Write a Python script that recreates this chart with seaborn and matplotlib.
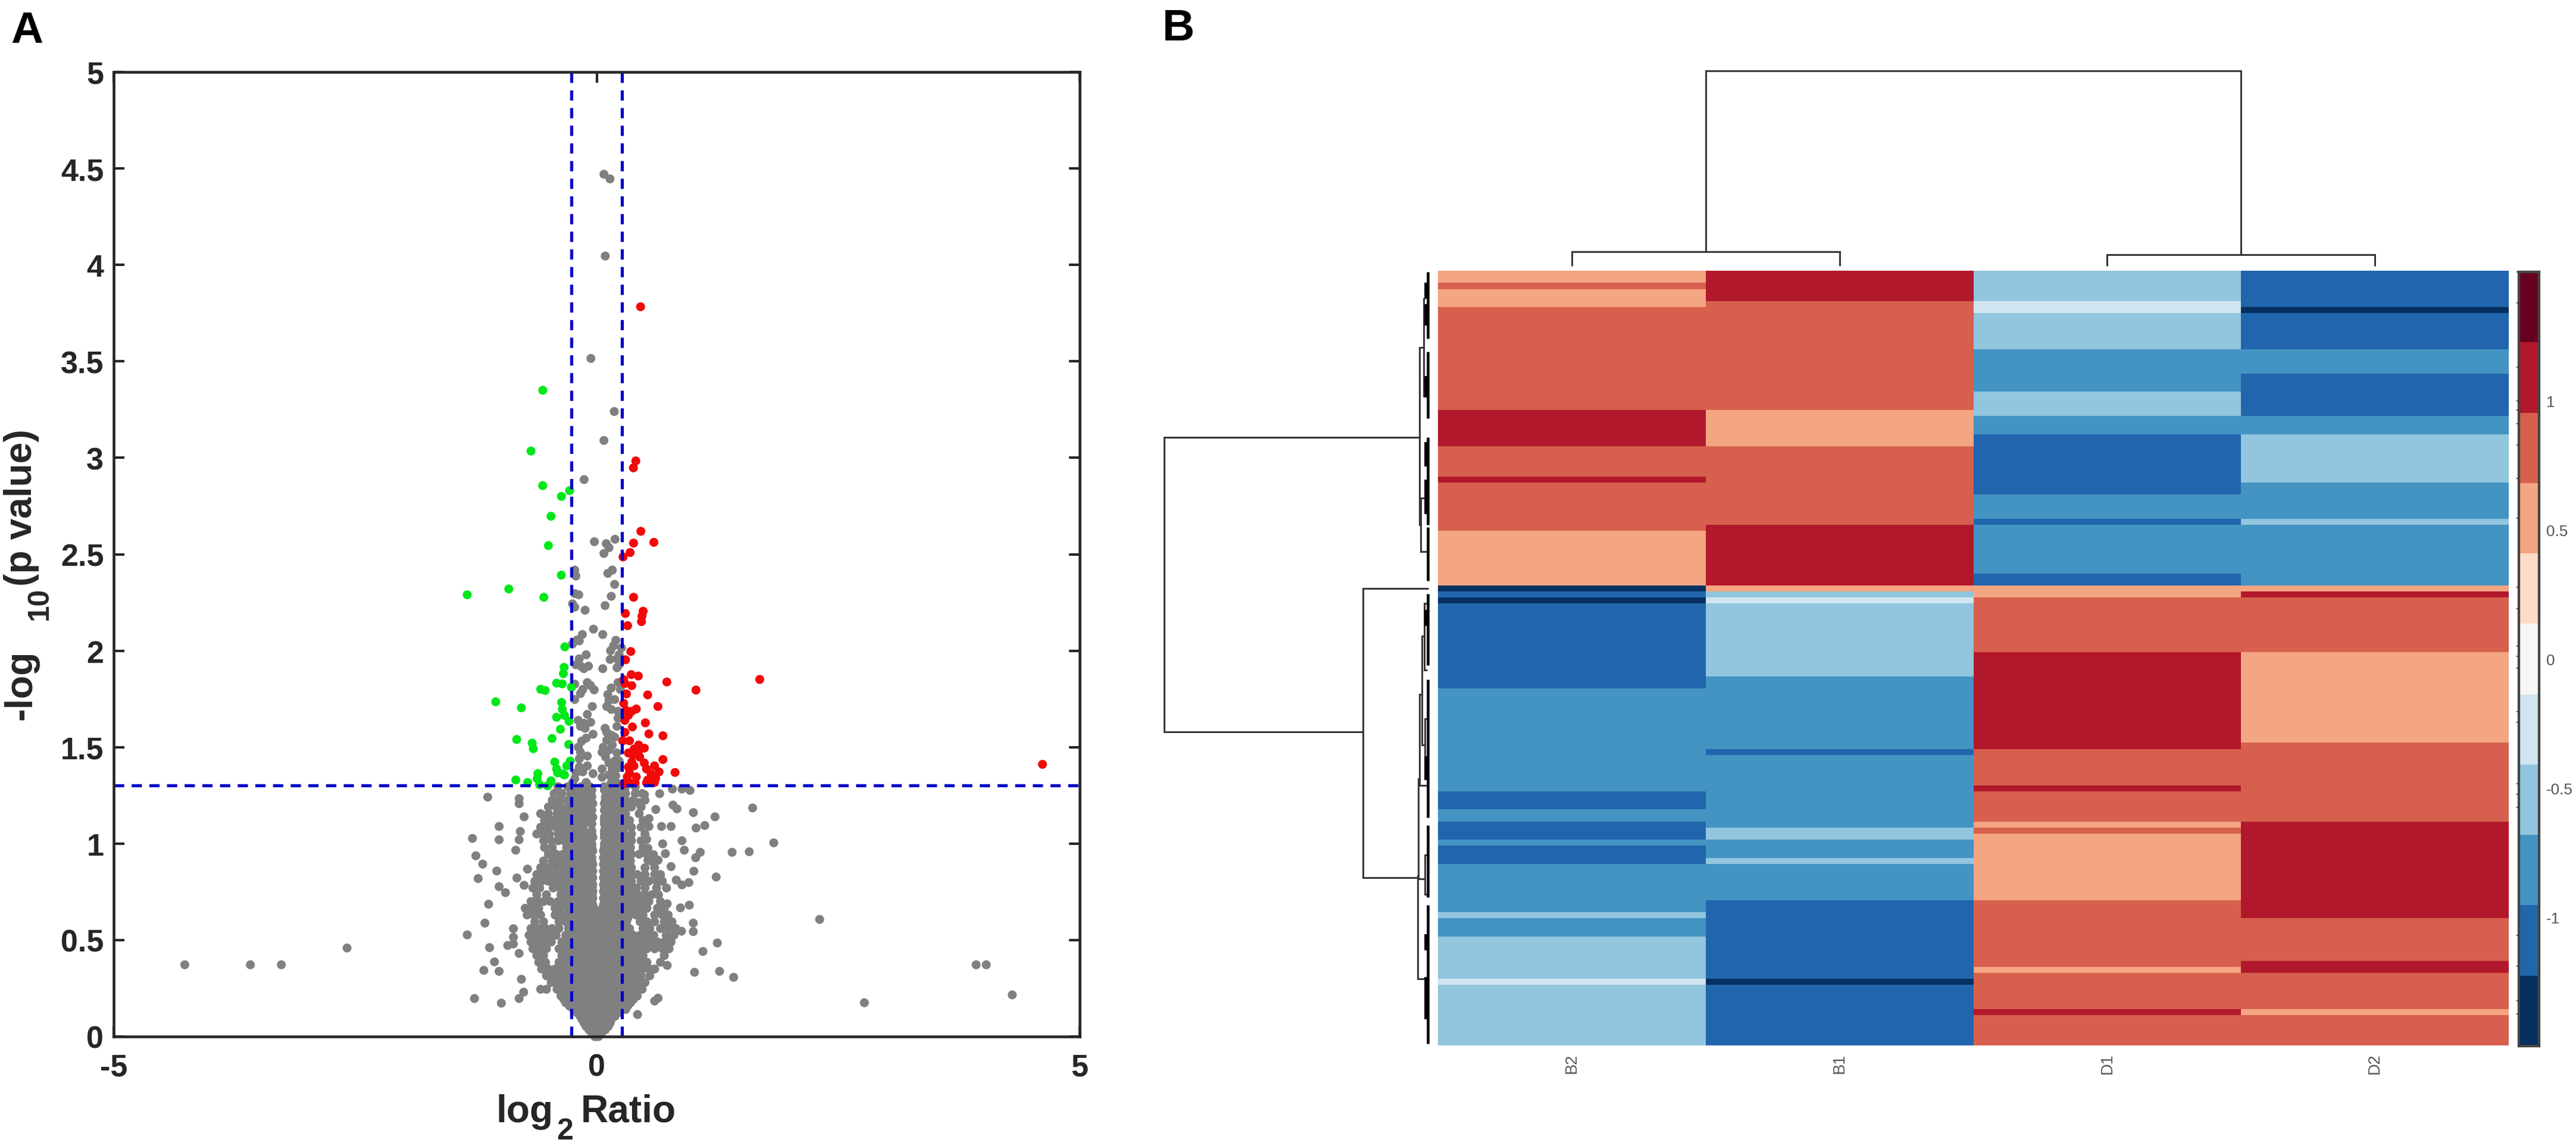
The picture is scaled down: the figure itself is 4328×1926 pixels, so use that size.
import numpy as np
import pandas as pd
import matplotlib
matplotlib.use("Agg")
import matplotlib.pyplot as plt
from matplotlib.colors import ListedColormap
import seaborn as sns

W, H = 4328, 1927
DPI = 300

sns.set_style("white")
plt.rcParams['font.family'] = ['Liberation Sans', 'DejaVu Sans']

# ---------- Panel A: volcano data ----------
green_x = [-.558,-.68,-.28,-.365,-.473,-.50,-.366,-1.34,-.91,-.547,-.33,-.337,-.345,-.415,-.356,-.262,-.58,-.533,
           -1.045,-.78,-.363,-.356,-.415,-.333,-.286,-.375,-.462,-.828,-.668,-.656,-.29,-.434,-.274,-.415,-.309,
           -.333,-.609,-.616,-.837,-.715,-.474,-.404,-.591,-.473,-.355,-.508,-.559]
green_y = [3.35,3.035,2.83,2.80,2.697,2.545,2.392,2.29,2.32,2.277,2.02,1.914,1.881,1.832,1.828,1.811,1.80,1.794,
           1.735,1.704,1.732,1.696,1.655,1.665,1.634,1.593,1.545,1.54,1.521,1.492,1.514,1.423,1.428,1.387,1.403,
           1.356,1.363,1.336,1.33,1.317,1.32,1.367,1.305,1.326,1.362,1.30,2.856]

red_x = [4.615,1.688,.454,.405,.38,.457,.382,.592,.346,.273,.382,.297,.481,.469,.464,.32,.353,.299,.358,.431,.28,.726,
         1.028,.292,.363,.309,.528,.28,.634,.41,.363,.304,.328,.292,.504,.37,.292,.54,.686,.269,.34,.434,.493,.386,
         .434,.328,.375,.445,.686,.363,.493,.328,.386,.599,.516,.811,.646,.34,.563,.41,.316,.61,.528,.328,.516,.398,
         .598,.28]
red_y = [1.411,1.851,3.783,2.984,2.948,2.619,2.558,2.562,2.509,2.486,2.277,2.193,2.205,2.179,2.151,2.13,1.996,1.953,
         1.876,1.869,1.85,1.838,1.796,1.83,1.819,1.776,1.771,1.727,1.711,1.698,1.686,1.691,1.665,1.639,1.626,1.605,
         1.577,1.569,1.559,1.533,1.533,1.511,1.495,1.49,1.48,1.47,1.459,1.449,1.436,1.423,1.418,1.397,1.403,1.403,
         1.387,1.369,1.372,1.366,1.361,1.346,1.346,1.338,1.33,1.32,1.315,1.315,1.317,1.31]

grey_x = [.075,.138,.089,-.06,.182,.075,-.13,-.024,.099,.19,.127,.075,-.227,-.215,.162,.115,.186,-.227,-.186,.151,
          -.25,-.227,.087,-.12,-.033,.063,-.149,-.203,-.25,-.18,.198,.174,.144,.257,.233,-.109,-.18,.139,.21,-.215,
          -.156,-.085,-.132,.063,.233,.21,-.227,-.097,-.062,-.026,-.144,-.168,.221,.151,.115,-.227,.186,.127,.245,
          -.045,.104,.151,.221,-.097,.221,-.191,-.132,-.062,-.168,-.12,.087,.21,.104,-.038,.151,-.109,-.156,.186,
          .104,.068,.162,-.191,-.168,.056,.127,.21,-.097,-.18,.092,.186,.127,.233,-.097,-.18,-.215,-.144,.056,.162,
          .221,-.038,.127,.198,.056,-.227,-.25,-.109,.186,.151,.221,
          -1.128,-.803,-.803,-.751,-1.010,-.791,-1.010,-1.286,-.803,-.838,-1.251,-1.18,-1.034,-1.227,-.826,-1.01,-.944,
          -.751,-.716,-1.119,-1.157,-1.34,-.862,-.862,-.921,-.862,-1.109,-.803,-1.058,-1.168,-1.01,-.779,-.756,-.803,
          -1.265,-.987,
          1.614,1.225,1.001,1.119,1.029,.671,.77,.789,.831,.652,.784,.883,.966,.883,.907,.683,.711,.588,1.072,1.025,
          1.402,1.579,1.833,.77,1.006,1.237,.954,.883,.824,.723,.659,.73,.959,.867,1.0,1.0,.878,1.249,1.1,1.013,1.272,
          1.418,.73,.635,.6,.423,.494,.435,.612,.541,.541,.518,.53,.53,.636,
          -4.264,-3.585,-3.264,-2.584,2.308,3.928,4.033,4.302,2.771]
grey_y = [4.47,4.446,4.046,3.515,3.24,3.09,2.887,2.565,2.555,2.578,2.534,2.504,2.418,2.387,2.418,2.401,2.344,2.296,2.29,
          2.282,2.243,2.226,2.234,2.21,2.112,2.084,2.084,2.056,2.035,2.051,2.054,2.025,2.0,2.015,1.979,1.979,1.958,
          1.955,1.958,1.927,1.917,1.92,1.907,1.907,1.927,1.912,1.827,1.835,1.819,1.797,1.799,1.778,1.835,1.807,1.773,
          1.747,1.747,1.742,1.799,1.711,1.711,1.696,1.686,1.67,1.65,1.639,1.624,1.629,1.608,1.598,1.598,1.608,1.577,
          1.567,1.562,1.547,1.531,1.552,1.536,1.5,1.511,1.5,1.474,1.474,1.485,1.47,1.454,1.439,1.449,1.428,1.418,1.428,
          1.403,1.397,1.367,1.372,1.387,1.387,1.392,1.363,1.356,1.351,1.344,1.336,1.315,1.317,1.32,1.317,1.31,
          1.241,1.233,1.207,1.139,1.089,1.063,1.02,1.027,1.02,.966,.937,.894,.858,.819,.822,.777,.746,.784,.868,.686,
          .588,.527,.559,.515,.472,.48,.461,.431,.387,.343,.338,.297,.23,.197,.197,.173,
          1.185,1.139,1.161,1.094,1.081,1.089,1.089,1.2,1.18,1.259,1.283,1.283,1.276,1.015,.966,.999,.948,.943,.955,.927,
          .955,.958,1.004,.881,.857,.827,.798,.786,.811,.77,.832,.688,.681,.667,.588,.544,.546,.485,.441,.333,.338,.307,
          .369,.199,.184,.114,1.254,1.213,1.177,1.13,1.089,1.022,.976,.914,.914,
          .372,.372,.372,.459,.607,.372,.372,.216,.175]

# dense part of the grey cloud, read row by row
core_y = [0.0,.035,.07,.105,.14,.175,.21,.245,.28,.315,.35,.385,.42,.455,.49,.525,.56,.595,.63,.665,.70,.735,.77,.805,
          .84,.875,.91,.945,.98,1.015,1.05,1.085,1.12,1.155,1.19,1.225,1.26,1.295]
core_x = [
 [-.02,.0,.02],
 [-.08,-.02,.04,.09],
 [-.13,-.07,-.01,.05,.11,.14],
 [-.17,-.11,-.05,.01,.07,.13,.19],
 [-.24,-.18,-.12,-.06,0,.06,.12,.18,.24,.30],
 [-.32,-.26,-.19,-.13,-.07,-.01,.05,.11,.17,.23,.29,.35],
 [-.37,-.3,-.24,-.17,-.1,-.04,.03,.09,.16,.22,.29,.35,.42],
 [-.58,-.52,-.41,-.35,-.28,-.21,-.14,-.07,0,.07,.14,.21,.28,.35,.41,.47],
 [-.47,-.4,-.33,-.26,-.19,-.12,-.05,.02,.09,.16,.23,.3,.37,.44,.5],
 [-.52,-.45,-.38,-.31,-.24,-.17,-.1,-.03,.04,.11,.18,.25,.32,.39,.46,.55],
 [-.57,-.5,-.43,-.36,-.29,-.22,-.15,-.08,-.01,.06,.13,.2,.27,.34,.41,.48,.55,.6],
 [-.6,-.53,-.39,-.32,-.25,-.18,-.11,-.04,.03,.1,.17,.24,.31,.38,.45,.52,.66],
 [-.62,-.55,-.36,-.29,-.22,-.15,-.08,-.01,.06,.13,.2,.27,.34,.41,.48,.7],
 [-.66,-.59,-.52,-.39,-.32,-.25,-.18,-.11,-.04,.03,.1,.17,.24,.31,.38,.45,.52,.6,.68,.75],
 [-.68,-.61,-.54,-.47,-.36,-.29,-.22,-.15,-.08,-.01,.06,.13,.2,.27,.34,.41,.48,.55,.63,.7,.77],
 [-.7,-.63,-.56,-.49,-.42,-.32,-.25,-.18,-.11,-.04,.03,.1,.17,.24,.31,.38,.45,.52,.59,.72,.8],
 [-.68,-.6,-.53,-.46,-.39,-.29,-.22,-.15,-.08,-.01,.06,.13,.2,.27,.34,.48,.55,.66,.74,.82],
 [-.64,-.55,-.39,-.32,-.25,-.18,-.11,-.04,.03,.1,.17,.24,.31,.45,.52,.6,.7,.78],
 [-.72,-.65,-.58,-.43,-.36,-.29,-.22,-.15,-.08,-.01,.06,.13,.2,.27,.34,.41,.48,.6,.68,.74],
 [-.74,-.67,-.6,-.43,-.38,-.3,-.23,-.16,-.09,-.03,.06,.12,.18,.25,.32,.39,.46,.52,.63,.7],
 [-.68,-.61,-.55,-.48,-.4,-.33,-.26,-.19,-.12,-.05,.08,.14,.2,.27,.34,.41,.48,.54,.66],
 [-.62,-.52,-.37,-.3,-.23,-.16,-.09,-.045,.09,.15,.22,.29,.36,.43,.5,.57,.64],
 [-.66,-.59,-.45,-.38,-.31,-.24,-.17,-.1,-.045,.08,.14,.2,.27,.34,.41,.5,.62],
 [-.64,-.57,-.5,-.43,-.36,-.29,-.22,-.15,-.08,.08,.15,.22,.29,.36,.46,.54,.62,.68],
 [-.62,-.55,-.48,-.41,-.34,-.27,-.2,-.13,-.06,.08,.14,.21,.28,.35,.42,.5,.6,.66],
 [-.58,-.5,-.42,-.35,-.28,-.21,-.14,-.07,.09,.15,.22,.29,.36,.5,.6],
 [-.55,-.46,-.38,-.31,-.24,-.17,-.1,-.05,.08,.14,.21,.28,.35,.56],
 [-.5,-.42,-.35,-.28,-.21,-.14,-.07,.09,.15,.22,.29,.36,.44,.52],
 [-.54,-.46,-.31,-.24,-.17,-.1,-.05,.08,.14,.21,.28,.35,.48],
 [-.55,-.47,-.4,-.34,-.27,-.2,-.13,-.06,.09,.15,.22,.29,.36,.46],
 [-.62,-.56,-.49,-.4,-.32,-.25,-.18,-.11,-.05,.08,.14,.21,.28,.36,.5],
 [-.58,-.5,-.42,-.35,-.28,-.21,-.14,.09,.15,.22,.29,.36,.46],
 [-.54,-.46,-.38,-.3,-.23,-.16,-.09,.08,.14,.21,.28,.34,.48],
 [-.58,-.5,-.41,-.33,-.26,-.18,-.12,.1,.16,.23,.3,.44],
 [-.5,-.42,-.36,-.28,-.21,-.14,.09,.15,.22,.29,.36,.46],
 [-.46,-.38,-.3,-.24,-.16,-.1,.09,.16,.23,.3,.38,.5],
 [-.44,-.36,-.27,-.2,-.13,-.06,.1,.16,.23,.3,.4,.47],
 [-.4,-.3,-.24,-.16,-.07,.08,.15,.22,.3,.4],
]

# second pass through the centre of the cloud, between the rows above
fill_y = [.0175,.0525,.0875,.1225,.1575,.1925,.2275,.2625,.2975,.3325,.3675,.4025,.4375,.4725,.5075,.5425,.5775,.6125,
          .6475,.6825,.7175,.7525,.7875,.8225,.8575,.8925,.9275,.9625,.9975,1.0325,1.0675,1.1025,1.1375,1.1725,1.2075,
          1.2425,1.2775]
fill_x = [
 [-.05,.0,.05],
 [-.11,-.05,.01,.07,.12],
 [-.15,-.09,-.03,.03,.09,.15],
 [-.2,-.14,-.08,-.02,.04,.1,.16,.22],
 [-.28,-.21,-.15,-.09,-.03,.03,.09,.15,.21,.27,.32],
 [-.34,-.28,-.22,-.16,-.1,-.04,.02,.08,.14,.2,.26,.32,.38],
 [-.33,-.27,-.2,-.14,-.07,-.01,.06,.12,.19,.25,.32,.38],
 [-.38,-.31,-.24,-.17,-.1,-.03,.04,.11,.18,.25,.32,.38],
 [-.37,-.3,-.23,-.16,-.09,-.02,.05,.12,.19,.26,.33],
 [-.34,-.27,-.2,-.13,-.06,.01,.08,.15,.22,.29,.36],
 [-.28,-.21,-.14,-.07,0,.07,.14,.21,.28,.35],
 [-.33,-.26,-.19,-.12,-.05,.02,.09,.16,.23,.3,.37],
 [-.33,-.26,-.19,-.12,-.05,.02,.09,.16,.23,.3],
 [-.28,-.21,-.14,-.07,0,.07,.14,.21,.28,.35],
 [-.28,-.21,-.14,-.07,0,.07,.14,.21,.28],
 [-.29,-.22,-.15,-.08,-.01,.06,.13,.2,.27,.34],
 [-.29,-.22,-.15,-.08,-.01,.06,.13,.2,.27],
 [-.31,-.24,-.17,-.1,-.03,.04,.11,.18,.25,.32],
 [-.26,-.19,-.12,-.05,.02,.09,.16,.23,.3],
 [-.27,-.2,-.13,-.04,.07,.13,.2,.27],
 [-.27,-.2,-.13,-.04,.07,.14,.21,.28],
 [-.27,-.2,-.13,-.04,.07,.13,.2,.27],
 [-.26,-.19,-.12,-.04,.07,.14,.21,.28],
 [-.24,-.17,-.1,-.04,.07,.14,.21,.28],
 [-.23,-.16,-.09,-.04,.07,.14,.21,.28],
 [-.24,-.17,-.1,-.04,.07,.14,.21],
 [-.27,-.2,-.13,-.05,.07,.14,.21,.28],
 [-.23,-.16,-.09,-.04,.07,.14,.21,.28],
 [-.27,-.2,-.13,-.05,.08,.15,.22],
 [-.23,-.16,-.09,-.04,.08,.15,.22,.29],
 [-.28,-.21,-.14,-.05,.08,.15,.22],
 [-.27,-.2,-.13,-.05,.08,.15,.22,.28],
 [-.25,-.18,-.11,-.04,.08,.15,.22],
 [-.28,-.2,-.13,-.05,.08,.15,.22,.28],
 [-.25,-.18,-.11,-.04,.08,.15,.22],
 [-.2,-.13,-.05,.09,.16,.23],
 [-.2,-.12,-.05,.08,.16,.23],
]

up_x = [-5, 5]
vline_x = [-.263, .263]
hline_y = [1.301]
a_xticks = [-5, 0, 5]
a_yticks = [0, .5, 1, 1.5, 2, 2.5, 3, 3.5, 4, 4.5, 5]
a_ylabels = ['0', '0.5', '1', '1.5', '2', '2.5', '3', '3.5', '4', '4.5', '5']

# ---------- Panel B: heat map data (colour level, rows in that run) ----------
columns = ['B2', 'B1', 'D1', 'D2']
palette = ['#053061','#2166ac','#4393c3','#92c5de','#d1e5f0','#f7f7f7','#fddbc7','#f4a582','#d6604d','#b2182b','#67001f']
levels_b2 = [7,8,7,8,9,8,9,8,7, 0,1,0,1,2,1,2,1,2,1,2,3,2,3,4,3]
runs_b2   = [2,1,3,17,6,5,1,8,9, 1,1,1,14,17,3,2,3,1,3,8,1,3,7,1,10]
levels_b1 = [9,8,7,8,9, 7,3,4,3,2,1,2,3,2,3,2,1,0,1]
runs_b1   = [5,18,6,13,10, 1,1,1,12,12,1,12,2,3,1,6,13,1,10]
levels_d1 = [3,4,3,2,3,2,1,2,1,2,1, 7,8,9,8,9,8,7,8,7,8,7,8,9,8]
runs_d1   = [5,2,6,7,4,3,10,4,1,8,2, 2,9,16,6,1,5,1,1,11,11,1,6,1,5]
levels_d2 = [1,0,1,2,1,2,3,2,3,2, 7,9,8,7,8,9,8,9,8,7,8]
runs_d2   = [6,1,6,4,7,3,8,6,1,10, 1,1,9,15,13,16,7,2,6,1,5]
cbar_ticks = [-1, -.5, 0, .5, 1]
cbar_labels = ['-1', '-0.5', '0', '0.5', '1']
cbar_rug = [1.5,1.38,1.13,1.0,.965,.913,.83,.7,.545,.277,.195,.05,.01,-.035,-.205,-.245,-.483,-.524,-.575,-1.07,-1.19,-1.325,-1.376]

# dendrograms: each merge is (height, position a, height a, position b, height b)
top_merges = [(1.0, 1.0, .0714, 3.0, .056), (.0714, .5, 0, 1.5, 0), (.056, 2.5, 0, 3.5, 0)]
left_merges = [
 (1.0, 27.5, .0315, 76.2, .247),
 (.247, 52.5, 0, 100.3, .039),
 (.0315, 12.7, .0164, 42, .028),
 (.0164, 4.6, .0126, 20.7, .012),
 (.028, 37.6, .012, 46.4, 0),
 (.039, 100, .036, 117, .006),
 (.036, 84, .032, 100.5, .012),
 (.032, 70, .022, 85, .004),
 (.022, 60.4, .0126, 78.4, .012),
 (.0126, 55, .005, 66, .005),
 (.012, 74, .004, 84, .004),
 (.012, 96.5, 0, 103, 0),
]
leaf_top = [.2,13.4,27.5,42.4,53.4,67.5,91.6,104.8]
leaf_bot = [11.2,24.4,42,51.2,65.2,90.3,103.5,127.7]
blob_top = [2,5.5,17.4,28.3,34.5,56,80.2,109.6,116.7]
blob_bot = [4.6,9,20.9,32.3,40.2,58.7,84.2,112.3,123.7]

# ---------- build frames ----------
core_xs = [x for row in core_x + fill_x for x in row]
core_ys = [y for row, y in zip(core_x + fill_x, core_y + fill_y) for _ in row]
volcano = pd.DataFrame({
    'x': core_xs + grey_x + green_x + red_x,
    'y': core_ys + grey_y + green_y + red_y,
    'group': ['grey'] * (len(core_xs) + len(grey_x)) + ['green'] * len(green_x) + ['red'] * len(red_x),
})


def level_value(i):
    return -1.5 + (i + .5) * 3 / 11


matrix = pd.DataFrame({
    'B2': level_value(np.repeat(levels_b2, runs_b2)),
    'B1': level_value(np.repeat(levels_b1, runs_b1)),
    'D1': level_value(np.repeat(levels_d1, runs_d1)),
    'D2': level_value(np.repeat(levels_d2, runs_d2)),
})[columns]

# ---------- figure ----------
fig = plt.figure(figsize=(W / DPI, H / DPI), dpi=DPI, facecolor='white')


def axes_px(x0, y0, x1, y1):
    return fig.add_axes([x0 / W, 1 - y1 / H, (x1 - x0) / W, (y1 - y0) / H])


def text_px(x, y, s, **kw):
    return fig.text(x / W, 1 - y / H, s, fontweight='bold', **kw)


# Panel A
ax = axes_px(191, 122, 1814, 1743)
sns.scatterplot(data=volcano, x='x', y='y', hue='group',
                palette={'grey': '#808080', 'green': '#00e81a', 'red': '#f00a0a'},
                s=13, linewidth=0, legend=False, ax=ax, zorder=2, clip_on=False)
dash = (0, (3.3, 2.4))
for v in vline_x:
    ax.axvline(v, color='#0000c8', lw=1.25, ls=dash, zorder=3)
ax.axhline(hline_y[0], color='#0000c8', lw=1.25, ls=dash, zorder=3)
ax.set_xlim(*up_x)
ax.set_ylim(0, 5)
ax.set_xticks(a_xticks, labels=[str(t) for t in a_xticks])
ax.set_yticks(a_yticks, labels=a_ylabels)
ax.tick_params(axis='both', which='major', direction='in', length=4.3, width=1.0, color='#262626',
               top=True, right=True, bottom=True, left=True, labelsize=12.5, labelcolor='#262626')
ax.tick_params(axis='x', pad=6.5)
ax.tick_params(axis='y', pad=4.0)
for lab in ax.get_xticklabels() + ax.get_yticklabels():
    lab.set_fontweight('bold')
for sp in ax.spines.values():
    sp.set_visible(True)
    sp.set_color('#262626')
    sp.set_linewidth(1.1)
    sp.set_zorder(4)
ax.set_xlabel('')
ax.set_ylabel('')

label_color = '#262626'
text_px(833, 1886, 'log', fontsize=15.4, color=label_color, ha='left', va='baseline')
text_px(935, 1915, '2', fontsize=12, color=label_color, ha='left', va='baseline')
text_px(976, 1886, 'Ratio', fontsize=15.4, color=label_color, ha='left', va='baseline')
rot = dict(rotation=90, rotation_mode='anchor', ha='left', va='baseline', color=label_color)
text_px(53, 1210, '-log', fontsize=15.4, **rot)
text_px(80, 1042, '10', fontsize=11.9, **rot)
text_px(53, 985, '(p value)', fontsize=15.4, **rot)

text_px(45, 52, 'A', ha='center', va='center', fontsize=18, color='black')
text_px(1980, 48, 'B', ha='center', va='center', fontsize=18, color='black')

# Panel B heat map
hm = axes_px(2416, 456, 4215, 1758)
cb = axes_px(4232, 458, 4266, 1759)
sns.heatmap(matrix, ax=hm, cbar_ax=cb, cmap=ListedColormap(palette), vmin=-1.5, vmax=1.5, yticklabels=False,
            cbar_kws={'ticks': cbar_ticks})
hm.set_xlabel('')
hm.set_ylabel('')
hm.tick_params(axis='x', length=0, pad=3, labelsize=6.5, labelcolor='#555555')
hm.set_xticklabels(columns, rotation=90, va='top', ha='center')
cb.set_yticklabels(cbar_labels)
cb.tick_params(axis='y', direction='in', length=3.0, width=.5, color='#222222', labelsize=6.3, labelcolor='#555555', pad=2.8)
for sp in cb.spines.values():
    sp.set_visible(True)
    sp.set_color('#444444')
    sp.set_linewidth(1.0)
for v in cbar_rug:
    cb.plot([-.1, 0], [v, v], transform=cb.get_yaxis_transform(), color='#333333', lw=.5, clip_on=False)

# top dendrogram
tp = axes_px(2416, 120, 4215, 447)
tp.set_xlim(0, 4)
tp.set_ylim(0, 1)
tp.axis('off')
for h, a, ha_, b, hb in top_merges:
    tp.plot([a, a, b, b], [ha_, h, h, hb], color='#333333', lw=.7, solid_joinstyle='miter', clip_on=False)

# left dendrogram
lf = axes_px(1956, 456, 2399, 1758)
lf.set_xlim(1, 0)
lf.set_ylim(128, 0)
lf.axis('off')
for h, a, ha_, b, hb in left_merges:
    lf.plot([ha_, h, h, hb], [a, a, b, b], color='#333333', lw=.7, solid_joinstyle='miter', clip_on=False)
for t, b in zip(leaf_top, leaf_bot):
    lf.plot([0, 0], [t, b], color='black', lw=1.1, solid_capstyle='butt', clip_on=False)
for t, b in zip(blob_top, blob_bot):
    lf.plot([.007, .007], [t, b], color='black', lw=1.4, solid_capstyle='butt', clip_on=False)

fig.savefig('out.png', dpi=DPI, facecolor='white')
